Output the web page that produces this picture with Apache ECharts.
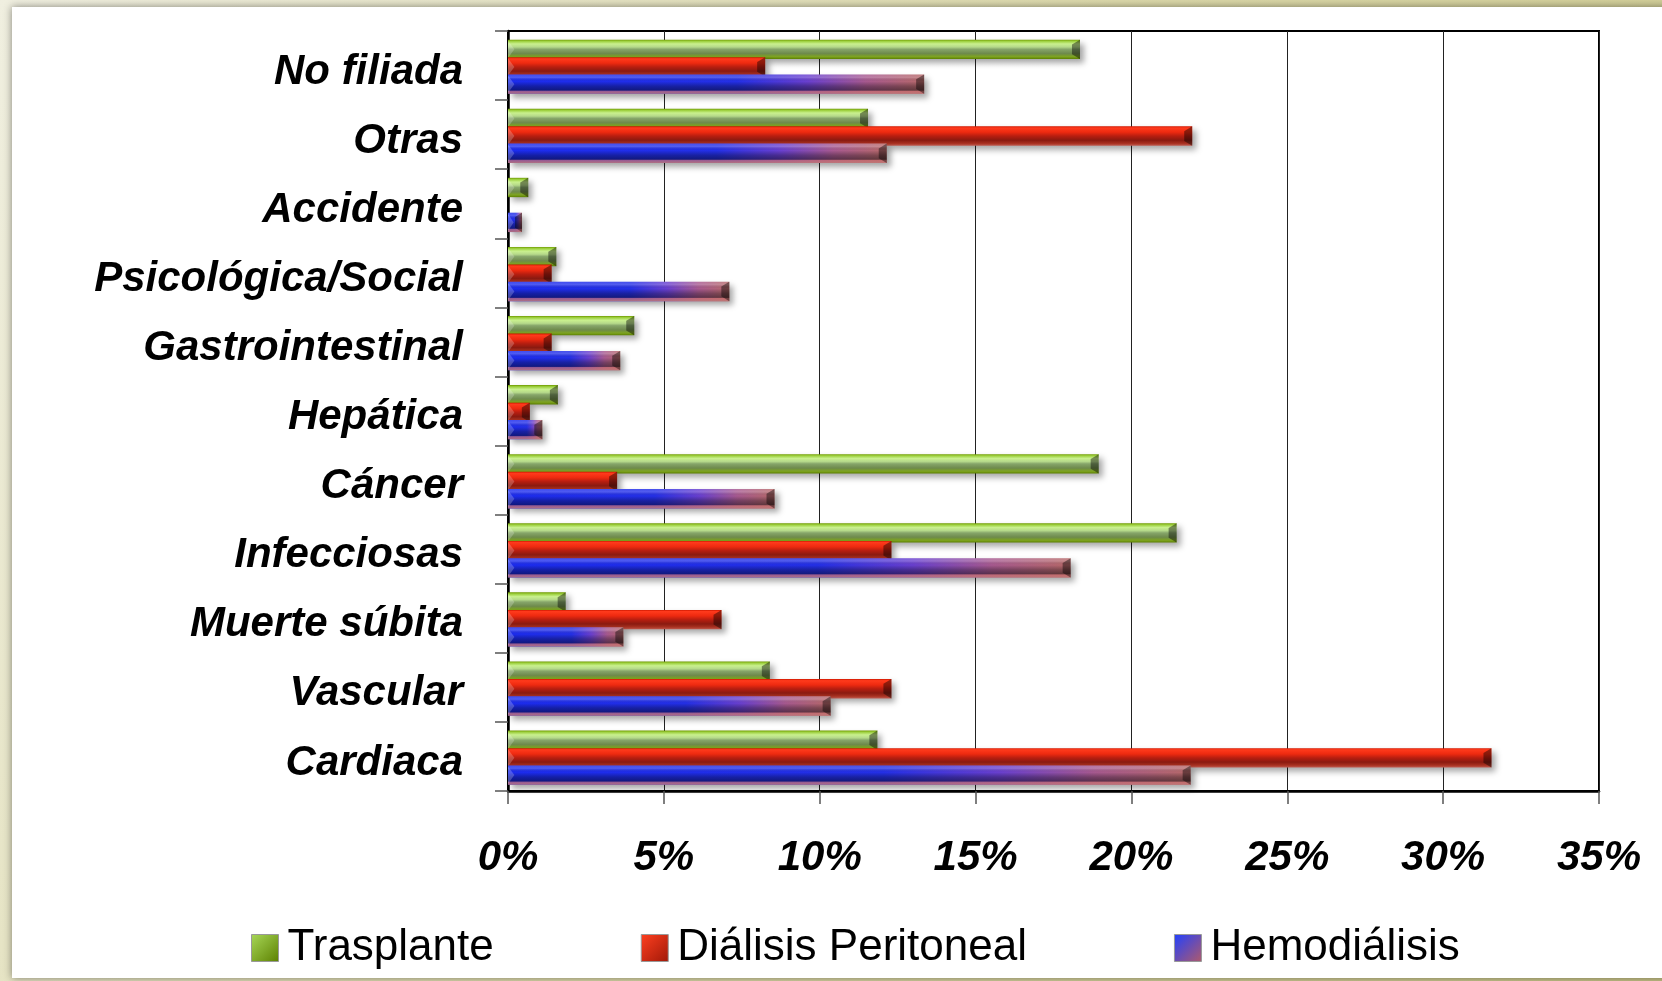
<!DOCTYPE html>
<html>
<head>
<meta charset="utf-8">
<script src="https://cdn.jsdelivr.net/npm/echarts@6/dist/echarts.min.js"></script>
<style>
  html, body { margin: 0; padding: 0; }
  #chart { width: 1662px; height: 981px; }
</style>
</head>
<body>
<div id="chart"></div>
<script>
// categories, listed top to bottom as in the picture
const categories = ['No filiada', 'Otras', 'Accidente', 'Psicológica/Social', 'Gastrointestinal',
  'Hepática', 'Cáncer', 'Infecciosas', 'Muerte súbita', 'Vascular', 'Cardiaca'];
const seriesNames = ['Trasplante', 'Diálisis Peritoneal', 'Hemodiálisis'];
// percentages
const trasplante = [18.35, 11.55, 0.65, 1.55, 4.05, 1.6, 18.95, 21.45, 1.85, 8.4, 11.85];
const dialisisPeritoneal = [8.25, 21.95, 0, 1.4, 1.4, 0.7, 3.5, 12.3, 6.85, 12.3, 31.55];
const hemodialisis = [13.35, 12.15, 0.45, 7.1, 3.6, 1.1, 8.55, 18.05, 3.7, 10.35, 21.9];
const xTicks = [0, 5, 10, 15, 20, 25, 30, 35];

const FONT = '"Liberation Sans", Arial, sans-serif';
const G = echarts.graphic.LinearGradient;

// where each bar sits inside its category band (fraction of band, from top)
const OFFSETS = [0.125, 0.38, 0.63];
const BAR_H = 0.28;

const greenFill = () => new G(0, 0, 0, 1, [
  { offset: 0, color: '#6f9a00' }, { offset: 0.08, color: '#9ccf3c' },
  { offset: 0.22, color: '#c9f08e' }, { offset: 0.38, color: '#b5d98a' },
  { offset: 0.5, color: '#86a56a' }, { offset: 0.72, color: '#6e8a4c' },
  { offset: 0.88, color: '#7ea420' }, { offset: 1, color: '#5c8000' }
]);
const redFill = () => new G(0, 0, 0, 1, [
  { offset: 0, color: '#d01800' }, { offset: 0.08, color: '#ff3a1c' },
  { offset: 0.3, color: '#ee2a10' }, { offset: 0.5, color: '#b81e10' },
  { offset: 0.72, color: '#8a1a10' }, { offset: 0.88, color: '#a83020' },
  { offset: 1, color: '#c05a50' }
]);
const blueFill = () => new G(0, 0, 1, 0, [
  { offset: 0, color: '#1c2cf0' }, { offset: 0.55, color: '#2430e8' },
  { offset: 0.72, color: '#6a40d0' }, { offset: 0.86, color: '#a85a90' },
  { offset: 1, color: '#b86a6a' }
]);
const blueShade = () => new G(0, 0, 0, 1, [
  { offset: 0, color: 'rgba(255,255,255,0.15)' }, { offset: 0.15, color: 'rgba(255,255,255,0.22)' },
  { offset: 0.35, color: 'rgba(0,0,0,0)' }, { offset: 0.6, color: 'rgba(0,0,0,0.3)' },
  { offset: 0.8, color: 'rgba(0,0,0,0.45)' }, { offset: 0.86, color: 'rgba(200,110,110,0.7)' },
  { offset: 1, color: 'rgba(190,120,120,0.9)' }
]);
const fills = [greenFill, redFill, blueFill];
const legendFills = [
  () => new G(0, 0, 1, 1, [{ offset: 0, color: '#a8d858' }, { offset: 1, color: '#5c8000' }]),
  () => new G(0, 0, 1, 1, [{ offset: 0, color: '#ff4020' }, { offset: 1, color: '#a01808' }]),
  () => new G(0, 0, 1, 1, [{ offset: 0, color: '#2040ff' }, { offset: 1, color: '#b05a6a' }])
];

function barRenderer(k) {
  return function (params, api) {
    const idx = api.value(0);
    const val = api.value(1);
    if (!val) return null;
    const p0 = api.coord([0, idx]);
    const p1 = api.coord([val, idx]);
    const band = api.size([0, 1])[1];
    const top = p0[1] - band / 2 + band * OFFSETS[k];
    const h = band * BAR_H;
    const x0 = p0[0], x1 = p1[0], w = x1 - x0;
    const b = Math.min(8, w / 2);
    const children = [{
      type: 'rect',
      shape: { x: x0, y: top, width: w, height: h },
      style: {
        fill: fills[k](),
        shadowBlur: 6, shadowOffsetX: 4, shadowOffsetY: 4, shadowColor: 'rgba(0,0,0,0.35)'
      }
    }];
    if (k === 2) {
      children.push({ type: 'rect', shape: { x: x0, y: top, width: w, height: h }, style: { fill: blueShade() } });
    }
    // end bevels
    children.push({
      type: 'polygon',
      shape: { points: [[x1 - b, top + b * 0.6], [x1, top], [x1, top + h], [x1 - b, top + h - b * 0.6]] },
      style: { fill: 'rgba(0,0,0,0.42)' }
    });
    children.push({
      type: 'polygon',
      shape: { points: [[x0, top + 1], [x0 + b * 0.8, top + h / 2], [x0, top + h - 1]] },
      style: { fill: 'rgba(255,255,255,0.22)' }
    });
    return { type: 'group', children };
  };
}

const seriesData = [trasplante, dialisisPeritoneal, hemodialisis];

const chart = echarts.init(document.getElementById('chart'));
chart.setOption({
  backgroundColor: new G(0, 0, 1, 1, [
    { offset: 0, color: '#f0efe0' }, { offset: 0.5, color: '#dcd9aa' }, { offset: 1, color: '#c8c488' }
  ]),
  animation: false,
  graphic: [{
    type: 'rect', z: -10, silent: true,
    shape: { x: 12, y: 7, width: 1700, height: 971 },
    style: { fill: '#ffffff', shadowBlur: 8, shadowColor: 'rgba(0,0,0,0.45)' }
  }],
  grid: {
    left: 508, right: 63, top: 31, bottom: 190,
    show: true, borderColor: '#000', borderWidth: 2
  },
  legend: {
    left: 251, top: 926, padding: 0,
    itemWidth: 27, itemHeight: 27, itemGap: 147,
    data: seriesNames.map((n, i) => ({
      name: n, icon: 'rect',
      itemStyle: { color: legendFills[i](), borderColor: '#999', borderWidth: 1 }
    })),
    textStyle: { fontFamily: FONT, fontSize: 44, color: '#000', padding: [0, 0, 0, 4] }
  },
  xAxis: {
    type: 'value', min: 0, max: 35, interval: 5,
    axisLine: { show: true, lineStyle: { color: '#000', width: 2.5 } },
    axisTick: { show: true, length: 13, lineStyle: { color: '#555', width: 1.5 } },
    splitLine: { show: true, lineStyle: { color: '#222', width: 1 } },
    axisLabel: {
      margin: 46, formatter: v => xTicks.includes(v) ? v + '%' : '',
      fontFamily: FONT, fontSize: 42, fontWeight: 'bold', fontStyle: 'italic', color: '#000'
    }
  },
  yAxis: {
    type: 'category', data: categories, inverse: true,
    axisLine: { show: true, lineStyle: { color: '#000', width: 2.5 } },
    axisTick: { show: true, length: 13, lineStyle: { color: '#555', width: 1.5 } },
    axisLabel: {
      margin: 45, verticalAlign: 'top', lineHeight: 13,
      fontFamily: FONT, fontSize: 42, fontWeight: 'bold', fontStyle: 'italic', color: '#000'
    }
  },
  series: seriesData.map((arr, k) => ({
    type: 'custom',
    name: seriesNames[k],
    itemStyle: { color: legendFills[k]() },
    encode: { x: 1, y: 0 },
    data: arr.map((v, i) => [i, v]),
    renderItem: barRenderer(k)
  }))
});
</script>
</body>
</html>
